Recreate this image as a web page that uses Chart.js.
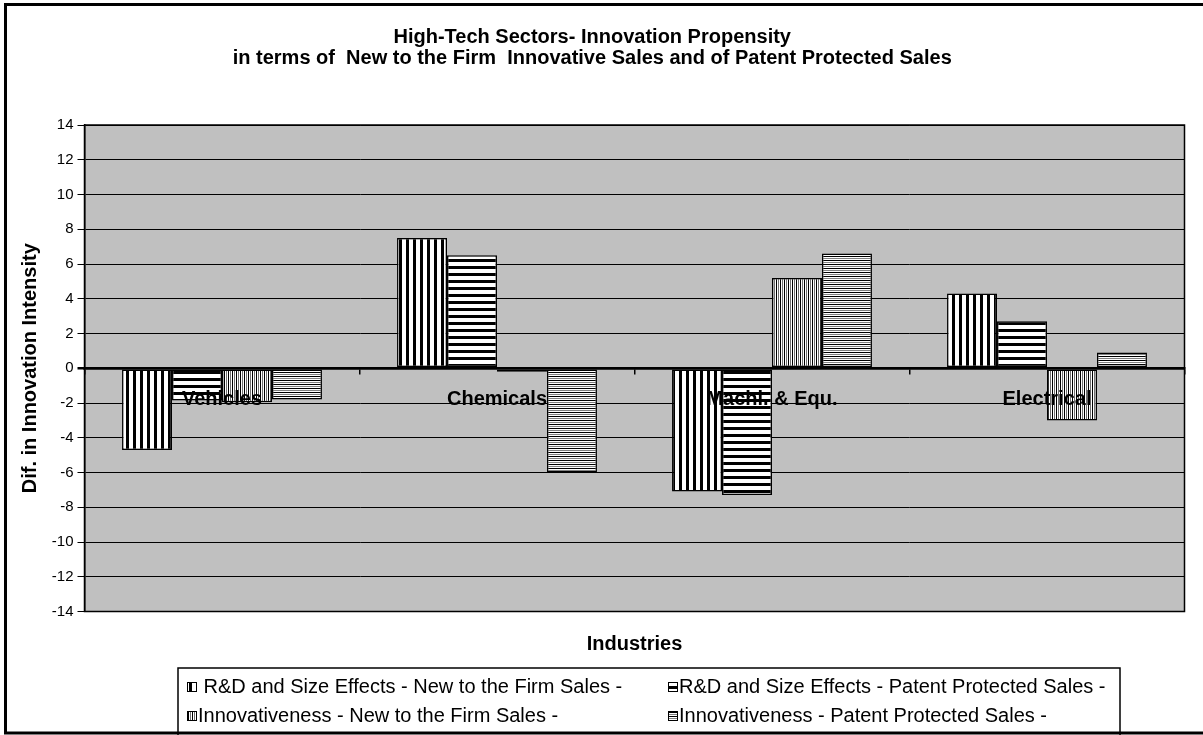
<!DOCTYPE html>
<html>
<head>
<meta charset="utf-8">
<script src="https://cdn.jsdelivr.net/npm/chart.js@4.4.1/dist/chart.umd.min.js"></script>
<style>
  html, body { margin: 0; padding: 0; background: #fff; }
  #wrap { width: 1203px; height: 735px; position: relative; }
</style>
</head>
<body>
<div id="wrap"><canvas id="c" width="1203" height="735"></canvas></div>
<script>
// ---- data ----
const categories = ["Vehicles", "Chemicals", "Machi. & Equ.", "Electrical"];
const seriesNames = [
  " R&D and Size Effects - New to the Firm Sales -",
  "R&D and Size Effects - Patent Protected Sales -",
  "Innovativeness - New to the Firm Sales -",
  "Innovativeness - Patent Protected Sales -"
];
const rdNewSales = [-4.7, 7.5, -7.1, 4.3];
const rdPatentSales = [-1.85, 6.5, -7.3, 2.7];
const innNewSales = [-1.95, -0.2, 5.2, -3.0];
const innPatentSales = [-1.8, -6.0, 6.6, 0.9];
const yTicks = [-14, -12, -10, -8, -6, -4, -2, 0, 2, 4, 6, 8, 10, 12, 14];
const titleLines = [
  "High-Tech Sectors- Innovation Propensity",
  "in terms of  New to the Firm  Innovative Sales and of Patent Protected Sales"
];
const yTitle = "Dif. in Innovation Intensity";
const xTitle = "Industries";

// ---- patterns ----
const canvas = document.getElementById('c');
const mainCtx = canvas.getContext('2d');
function makePattern(w, h, draw) {
  const t = document.createElement('canvas');
  t.width = w; t.height = h;
  const g = t.getContext('2d');
  draw(g);
  return mainCtx.createPattern(t, 'repeat');
}
const pWideV = makePattern(7, 1, g => { g.fillStyle = '#fff'; g.fillRect(0,0,7,1); g.fillStyle = '#000'; g.fillRect(0,0,3,1); });
const pWideH = makePattern(1, 7, g => { g.fillStyle = '#fff'; g.fillRect(0,0,1,7); g.fillStyle = '#000'; g.fillRect(0,0,1,3); });
const pThinV = makePattern(4, 1, g => { g.fillStyle = '#fff'; g.fillRect(0,0,4,1); g.fillStyle = '#000'; g.fillRect(0,0,1,1); g.fillStyle = '#707070'; g.fillRect(2,0,1,1); });
const pThinH = makePattern(1, 4, g => { g.fillStyle = '#fff'; g.fillRect(0,0,1,4); g.fillStyle = '#000'; g.fillRect(0,0,1,1); g.fillStyle = '#808080'; g.fillRect(0,2,1,1); });
const patterns = [pWideV, pWideH, pThinV, pThinH];

const seriesValues = [rdNewSales, rdPatentSales, innNewSales, innPatentSales];
const datasets = seriesValues.map((vals, i) => ({
  label: seriesNames[i],
  data: vals,
  backgroundColor: patterns[i],
  borderColor: '#000',
  borderWidth: 1.5,
  borderSkipped: false,
  categoryPercentage: 0.727,
  barPercentage: 1.0
}));

const FONT = '"Liberation Sans", Arial, sans-serif';

const decor = {
  id: 'decor',
  beforeDraw(chart) {
    const { ctx, chartArea: a } = chart;
    ctx.save();
    ctx.fillStyle = '#fff';
    ctx.fillRect(0, 0, chart.width, chart.height);
    ctx.fillStyle = '#C0C0C0';
    ctx.fillRect(a.left, a.top, a.right - a.left, a.bottom - a.top);
    ctx.restore();
  },
  afterDraw(chart) {
    const { ctx, chartArea: a } = chart;
    ctx.save();
    // plot border
    ctx.strokeStyle = '#000';
    ctx.lineWidth = 1.5;
    ctx.strokeRect(a.left, a.top, a.right - a.left, a.bottom - a.top);
    // outer border
    ctx.lineWidth = 3;
    ctx.strokeRect(5.5, 4.5, chart.width + 10, 733 - 4.5);
    // x title
    ctx.fillStyle = '#000';
    ctx.font = 'bold 20px ' + FONT;
    ctx.textAlign = 'center';
    ctx.textBaseline = 'middle';
    ctx.fillText(xTitle, (a.left + a.right) / 2, 644);
    // legend box
    ctx.lineWidth = 1.5;
    ctx.strokeRect(178, 668, 1120 - 178, 80);
    // legend items
    const cols = [187, 668];
    const rows = [687, 716];
    ctx.font = '20px ' + FONT;
    ctx.textAlign = 'left';
    chart.data.datasets.forEach((ds, i) => {
      const x = cols[i % 2];
      const y = rows[Math.floor(i / 2)];
      ctx.fillStyle = ds.backgroundColor;
      ctx.fillRect(x, y - 5, 10, 10);
      ctx.lineWidth = 1;
      ctx.strokeStyle = '#000';
      ctx.strokeRect(x + 0.5, y - 4.5, 9, 9);
      ctx.fillStyle = '#000';
      ctx.fillText(ds.label, x + 11, y);
    });
    ctx.restore();
  }
};

new Chart(canvas, {
  type: 'bar',
  data: { labels: categories, datasets },
  plugins: [decor],
  options: {
    responsive: false,
    animation: false,
    devicePixelRatio: 1,
    layout: { padding: { left: 0, right: 18.5, top: 0, bottom: 123.5 } },
    plugins: {
      legend: { display: false },
      tooltip: { enabled: false },
      title: {
        display: true,
        text: titleLines,
        color: '#000',
        font: { family: FONT, size: 20, weight: 'bold', lineHeight: 1.05 },
        padding: { top: 27, bottom: 56 }
      }
    },
    scales: {
      x: {
        position: { y: 0 },
        grid: { display: true, drawOnChartArea: false, drawTicks: true, tickLength: 5, color: '#000', lineWidth: 1.5 },
        border: { display: true, color: '#000', width: 2.5, z: 1 },
        ticks: { z: 2, color: '#000', font: { family: FONT, size: 20, weight: 'bold' }, padding: 14, maxRotation: 0, autoSkip: false }
      },
      y: {
        min: -14,
        max: 14,
        afterFit(scale) { scale.width = 84.5; },
        afterBuildTicks(scale) { scale.ticks = yTicks.map(v => ({ value: v })); },
        grid: {
          color: '#000',
          lineWidth: ctx => (ctx.tick && ctx.tick.value === 0 ? 2.5 : 1),
          drawTicks: true,
          tickLength: 7
        },
        border: { display: true, color: '#000', width: 1.5 },
        ticks: { color: '#000', font: { family: FONT, size: 15 }, padding: 4 },
        title: {
          display: true,
          text: yTitle,
          color: '#000',
          font: { family: FONT, size: 20, weight: 'bold' },
          padding: { top: 18, bottom: 0 }
        }
      }
    }
  }
});
</script>
</body>
</html>
